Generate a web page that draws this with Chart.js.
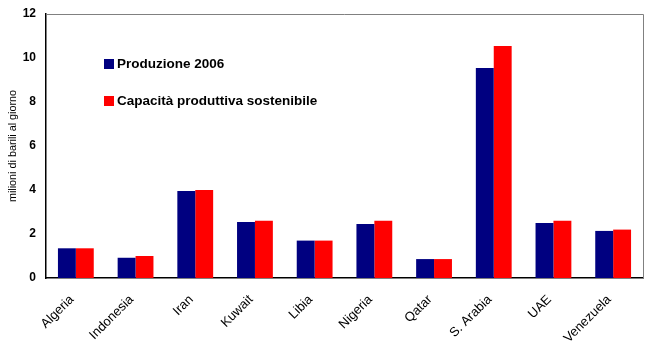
<!DOCTYPE html>
<html>
<head>
<meta charset="utf-8">
<script src="https://cdn.jsdelivr.net/npm/chart.js@4/dist/chart.umd.min.js"></script>
<style>
    html, body { margin: 0; padding: 0; background: #fff; }
    #wrap { width: 650px; height: 354px; }
</style>
</head>
<body>
<div id="wrap"><canvas id="oilChart"></canvas></div>
<script>
const countries = ['Algeria', 'Indonesia', 'Iran', 'Kuwait', 'Libia', 'Nigeria', 'Qatar', 'S. Arabia', 'UAE', 'Venezuela'];
const production2006 = [1.35, 0.92, 3.95, 2.55, 1.7, 2.45, 0.86, 9.55, 2.5, 2.14];
const capacity = [1.35, 1.0, 4.0, 2.6, 1.7, 2.6, 0.86, 10.55, 2.6, 2.2];
const yTicks = [0, 2, 4, 6, 8, 10, 12];

// gray top/right frame + legend drawn inside the plot
const framePlugin = {
    id: 'frame',
    beforeDatasetsDraw(chart) {
        const { ctx, chartArea: a } = chart;
        ctx.save();
        ctx.strokeStyle = '#808080';
        ctx.lineWidth = 1;
        ctx.beginPath();
        ctx.moveTo(a.left, a.top + 0.5);
        ctx.lineTo(a.right + 0.5, a.top + 0.5);
        ctx.lineTo(a.right + 0.5, a.bottom);
        ctx.stroke();
        ctx.restore();
    },
    afterDraw(chart) {
        const ctx = chart.ctx;
        const rows = [64, 101];
        ctx.save();
        ctx.font = 'bold 13.5px "Liberation Sans", Arial, sans-serif';
        ctx.textBaseline = 'middle';
        chart.data.datasets.forEach((ds, i) => {
            ctx.fillStyle = ds.backgroundColor;
            ctx.fillRect(104, rows[i] - 5, 10, 10);
            ctx.fillStyle = '#000';
            ctx.fillText(ds.label, 117, rows[i]);
        });
        ctx.restore();
    }
};

new Chart(document.getElementById('oilChart'), {
    type: 'bar',
    data: {
        labels: countries,
        datasets: [{
            label: 'Produzione 2006',
            data: production2006,
            backgroundColor: '#000080'
        }, {
            label: 'Capacità produttiva sostenibile',
            data: capacity,
            backgroundColor: '#ff0000'
        }]
    },
    options: {
        responsive: true,
        maintainAspectRatio: false,
        animation: false,
        layout: { padding: { top: 14, right: 7, left: 0, bottom: 0 } },
        datasets: {
            bar: { categoryPercentage: 0.6, barPercentage: 1.0 }
        },
        plugins: {
            legend: { display: false },
            tooltip: { enabled: false }
        },
        scales: {
            x: {
                grid: { display: false, drawTicks: false },
                border: { color: '#000', width: 1.5 },
                ticks: {
                    color: '#000',
                    maxRotation: 45,
                    minRotation: 45,
                    padding: 14,
                    labelOffset: -4,
                    font: { family: '"Liberation Sans", Arial, sans-serif', size: 13 }
                },
                afterFit(scale) { scale.height = 76; }
            },
            y: {
                min: 0,
                max: 12,
                afterBuildTicks(scale) { scale.ticks = yTicks.map(v => ({ value: v })); },
                grid: { display: false, drawTicks: false },
                border: { color: '#000', width: 1.5 },
                title: {
                    display: true,
                    text: 'milioni di barili al giorno',
                    color: '#000',
                    padding: { top: 7, bottom: 2 },
                    font: { family: '"Liberation Sans", Arial, sans-serif', size: 10.8 }
                },
                ticks: {
                    color: '#000',
                    padding: 10,
                    font: { family: '"Liberation Sans", Arial, sans-serif', size: 12, weight: 'bold' }
                },
                afterFit(scale) {
                    scale.width = 46;
                    scale.paddingTop = 0;
                    scale.paddingBottom = 0;
                }
            }
        }
    },
    plugins: [framePlugin]
});
</script>
</body>
</html>
